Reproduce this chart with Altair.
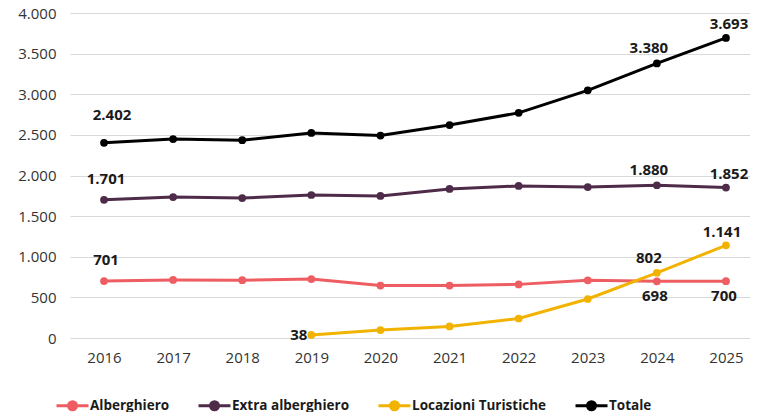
import altair as alt
import pandas as pd

years = [2016, 2017, 2018, 2019, 2020, 2021, 2022, 2023, 2024, 2025]
series_names = ["Alberghiero", "Extra alberghiero", "Locazioni Turistiche", "Totale"]
alberghiero = [701, 714, 712, 726, 645, 645, 660, 710, 698, 700]
extra_alberghiero = [1701, 1735, 1723, 1760, 1748, 1834, 1871, 1858, 1880, 1852]
locazioni = [None, None, None, 38, 98, 142, 240, 480, 802, 1141]
totale = [2402, 2449, 2435, 2524, 2491, 2621, 2771, 3048, 3380, 3693]
colors = ["#EE5D62", "#4E2C49", "#F2B300", "#000000"]
y_ticks = [0, 500, 1000, 1500, 2000, 2500, 3000, 3500, 4000]

rows = []
for name, vals in zip(series_names, [alberghiero, extra_alberghiero, locazioni, totale]):
    for yr, v in zip(years, vals):
        if v is not None:
            rows.append({"anno": str(yr), "serie": name, "valore": v})
df = pd.DataFrame(rows)

# which points carry a data label, grouped by label placement
label_groups = {
    "above_far": [("Totale", 2016)],
    "above_mid": [("Extra alberghiero", 2016), ("Alberghiero", 2016)],
    "above_right": [("Totale", 2025), ("Extra alberghiero", 2025)],
    "above_left": [("Totale", 2024), ("Extra alberghiero", 2024), ("Locazioni Turistiche", 2024)],
    "above": [("Locazioni Turistiche", 2025)],
    "below": [("Alberghiero", 2024), ("Alberghiero", 2025)],
    "left": [("Locazioni Turistiche", 2019)],
}
offsets = {
    "above_far": dict(dy=-28, dx=8, align="center"),
    "above_mid": dict(dy=-21, dx=2, align="center"),
    "above_right": dict(dy=-14, dx=3, align="center"),
    "above_left": dict(dy=-15, dx=-8, align="center"),
    "above": dict(dy=-13, dx=-4, align="center"),
    "below": dict(dy=15, dx=-2, align="center"),
    "left": dict(dy=0, dx=-4, align="right"),
}

FONT = "Open Sans"
fmt = "replace(format(datum.valore, ','), ',', '.')"

x_enc = alt.X("anno:N", title=None,
              scale=alt.Scale(type="point", padding=0.42, align=0.586),
              axis=alt.Axis(labelAngle=0, ticks=False, domain=False, labelPadding=12,
                            labelFont=FONT, labelFontSize=15, labelColor="#333333", grid=False))
y_enc = alt.Y("valore:Q", title=None,
              scale=alt.Scale(domain=[0, 4000], nice=False),
              axis=alt.Axis(values=y_ticks, ticks=False, domain=False, labelPadding=14,
                            labelFont=FONT, labelFontSize=15, labelColor="#333333",
                            gridColor="#d9d9d9", gridWidth=1,
                            labelExpr="replace(format(datum.value, ','), ',', '.')"))
color_enc = alt.Color("serie:N", title=None,
                      scale=alt.Scale(domain=series_names, range=colors),
                      legend=alt.Legend(orient="none", direction="horizontal",
                                        legendX=-15, legendY=375,
                                        symbolType="M-1,0L1,0M-0.25,0a0.25,0.25 0 1,0 0.5,0a0.25,0.25 0 1,0 -0.5,0",
                                        symbolSize=1024, symbolStrokeWidth=3,
                                        labelFont=FONT, labelFontSize=13.5, labelFontWeight="bold",
                                        labelColor="#1a1a1a", labelOffset=0, columnPadding=22))

base = alt.Chart(df)
lines = base.mark_line(strokeWidth=3).encode(x=x_enc, y=y_enc, color=color_enc,
                                             order=alt.Order("anno:N"))
points = base.mark_point(filled=True, size=60, opacity=1).encode(
    x="anno:N", y="valore:Q", color=alt.Color("serie:N", scale=alt.Scale(domain=series_names, range=colors)))

layers = [lines, points]
for g, items in label_groups.items():
    ld = df[df.apply(lambda r: (r["serie"], int(r["anno"])) in items, axis=1)]
    t = alt.Chart(ld).transform_calculate(lab=fmt).mark_text(
        font=FONT, fontSize=15, fontWeight="bold", color="#1a1a1a",
        baseline="middle", **offsets[g]).encode(x="anno:N", y="valore:Q", text="lab:N")
    layers.append(t)

chart = alt.layer(*layers).properties(
    width=680, height=325,
    autosize=alt.AutoSizeParams(type="none"),
    padding={"left": 62, "top": 5, "right": 0, "bottom": 74},
).configure_view(stroke=None)

chart.save("out.html", embed_options={"renderer": "svg", "actions": False})
